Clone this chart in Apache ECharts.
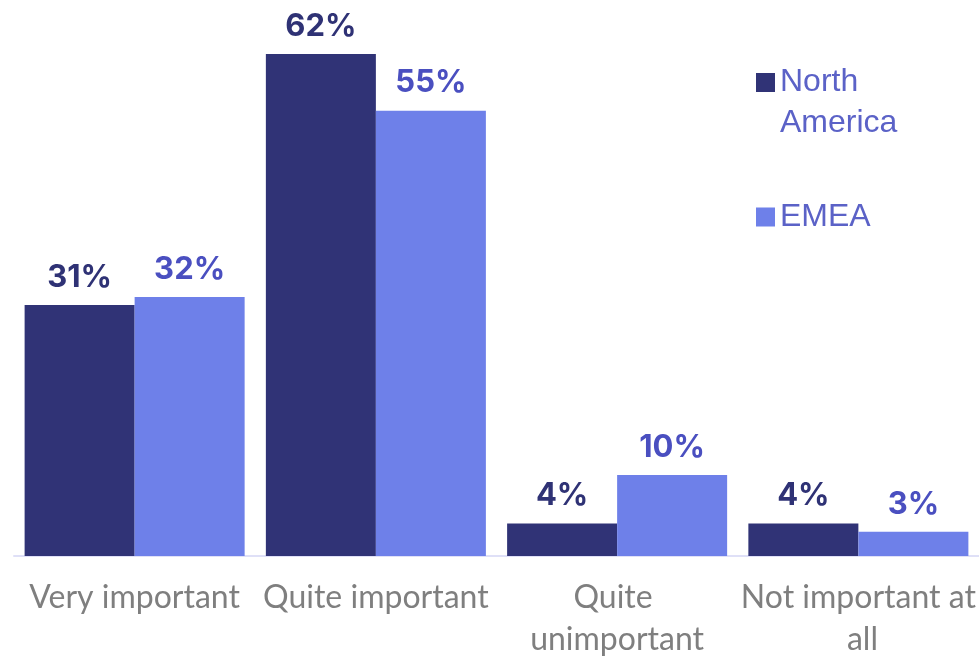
<!DOCTYPE html>
<html>
<head>
<meta charset="utf-8">
<script src="https://cdn.jsdelivr.net/npm/echarts@6/dist/echarts.min.js"></script>
<style>
html,body{margin:0;padding:0;background:#fff;}
#chart{width:979px;height:656px;}
</style>
</head>
<body>
<div id="chart"></div>
<script>
var categories = ['Very important', 'Quite important', 'Quite unimportant', 'Not important at all'];
var seriesNames = ['North America', 'EMEA'];
var northAmerica = [31, 62, 4, 4];
var emea = [32, 55, 10, 3];

var chart = echarts.init(document.getElementById('chart'), null, {renderer: 'canvas'});
var valueLabel = function (color) {
  return {
    show: true,
    position: 'top',
    distance: 12,
    formatter: function (p) { return p.value + '%'; },
    color: color,
    fontFamily: 'Inter',
    fontWeight: 'bold',
    fontSize: 31
  };
};
chart.setOption({
  animation: false,
  backgroundColor: '#ffffff',
  grid: {left: 14, right: 0, top: 54, bottom: 100, containLabel: false, outerBoundsMode: 'none'},
  legend: {
    orient: 'vertical',
    left: 751,
    top: 57,
    itemWidth: 19,
    itemHeight: 60,
    itemGap: 43,
    selectedMode: false,
    textStyle: {color: '#5b62c7', fontFamily: 'Liberation Sans', fontSize: 32, lineHeight: 41},
    formatter: function (name) { return name.replace(' ', '\n'); },
    data: [
      {name: seriesNames[0], icon: 'path://M0 0H19V19H0Z M0 60H19'},
      {name: seriesNames[1], icon: 'path://M0 0H19 M0 20.5H19V39.5H0Z M0 60H19'}
    ]
  },
  xAxis: {
    type: 'category',
    data: categories,
    axisLine: {lineStyle: {color: '#dfe0f7', width: 2}},
    axisTick: {show: false},
    axisLabel: {
      color: '#7f7f7f',
      fontFamily: 'Lato',
      fontSize: 32,
      lineHeight: 42,
      margin: 21,
      width: 240,
      overflow: 'break',
      interval: 0
    }
  },
  yAxis: {
    type: 'value',
    min: 0,
    max: 62,
    show: false,
    splitLine: {show: false}
  },
  series: [
    {
      name: seriesNames[0],
      type: 'bar',
      data: northAmerica,
      barGap: '0%',
      barCategoryGap: '8.8%',
      itemStyle: {color: '#303376'},
      label: valueLabel('#2f3275')
    },
    {
      name: seriesNames[1],
      type: 'bar',
      data: emea,
      itemStyle: {color: '#6e80e9'},
      label: valueLabel('#4a4fc0')
    }
  ]
});
</script>
</body>
</html>
